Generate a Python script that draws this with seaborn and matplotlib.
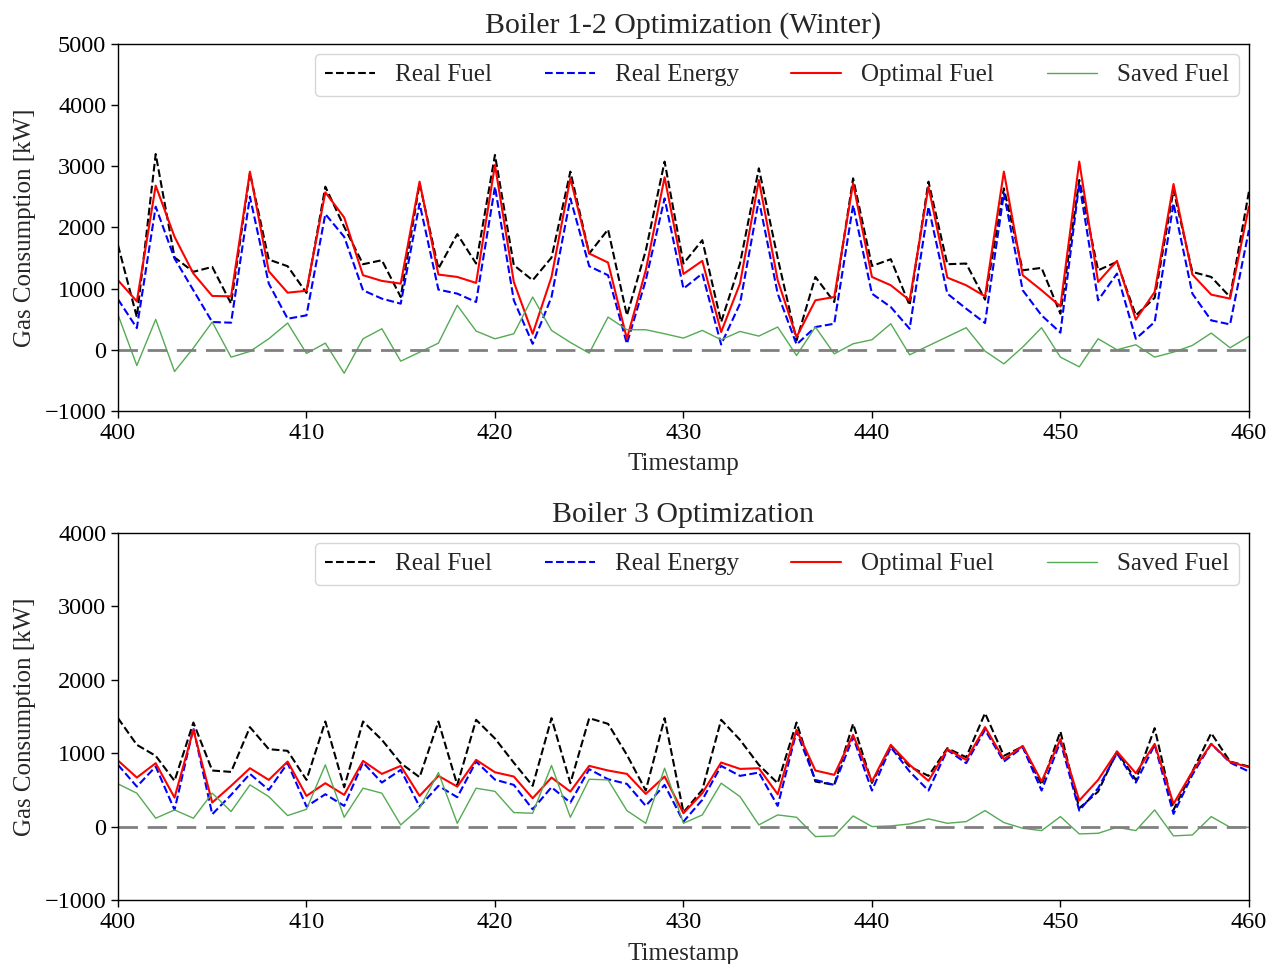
import numpy as np
import pandas as pd
import matplotlib
matplotlib.use("Agg")
import matplotlib.pyplot as plt
import seaborn as sns

timestamps = list(range(400, 461))

b12_real_fuel = [1710, 535, 3200, 1510, 1275, 1355, 755, 2890, 1475, 1366, 930,
                 2667, 2011, 1399, 1464, 863, 2720, 1328, 1891, 1410, 3186,
                 1383, 1137, 1508, 2913, 1574, 1967, 563, 1620, 3077, 1410,
                 1792, 454, 1410, 2967, 1500, 153, 1191, 781, 2803, 1370,
                 1481, 727, 2749, 1399, 1410, 820, 2639, 1300, 1339, 590,
                 2776, 1300, 1437, 563, 850, 2612, 1273, 1191, 863, 2585]
b12_real_energy = [825, 355, 2339, 1492, 973, 454, 443, 2503, 1082, 508, 563,
                   2219, 1847, 973, 836, 754, 2393, 984, 918, 781, 2667,
                   809, 98, 863, 2475, 1366, 1219, 98, 1137, 2475, 1000,
                   1246, 87, 754, 2448, 918, 87, 372, 426, 2366, 918,
                   699, 344, 2339, 918, 672, 437, 2557, 973, 563, 280,
                   2721, 809, 1246, 180, 454, 2393, 918, 481, 415, 1956]
b12_opt_fuel = [1137, 792, 2683, 1847, 1246, 880, 874, 2912, 1284, 934, 965,
                2574, 2164, 1219, 1126, 1082, 2749, 1230, 1191, 1093, 3022,
                1109, 262, 1191, 2803, 1574, 1426, 180, 1300, 2820, 1240,
                1454, 290, 1082, 2776, 1137, 208, 809, 863, 2721, 1191,
                1055, 809, 2667, 1180, 1055, 874, 2913, 1219, 973, 710,
                3077, 1109, 1454, 492, 945, 2710, 1230, 902, 836, 2339]
b12_saved_fuel = [574, -257, 497, -355, 30, 454, -120, -27, 180, 437, -60,
                  109, -383, 180, 344, -186, -40, 109, 727, 306, 180,
                  262, 863, 317, 120, -55, 535, 328, 328, 262, 191,
                  317, 164, 300, 224, 372, -93, 372, -66, 98, 164,
                  426, -82, 66, 213, 361, -22, -230, 44, 361, -120,
                  -279, 180, 0, 82, -120, -38, 71, 273, 33, 219]

b3_real_fuel = [1477, 1114, 964, 623, 1418, 764, 745, 1355, 1055, 1032, 636,
                1432, 536, 1432, 1182, 864, 673, 1432, 568, 1455, 1200,
                870, 555, 1477, 591, 1477, 1400, 977, 491, 1477, 195,
                500, 1455, 1182, 841, 591, 1418, 614, 568, 1400, 595,
                1100, 818, 691, 1068, 945, 1545, 964, 1091, 568, 1295,
                250, 477, 1023, 636, 1341, 227, 750, 1273, 886, 818]
b3_real_energy = [841, 545, 818, 227, 1341, 168, 432, 718, 500, 864, 273,
                  441, 282, 873, 600, 773, 273, 555, 400, 886, 640,
                  568, 236, 536, 327, 782, 645, 582, 282, 568, 68,
                  364, 827, 691, 736, 282, 1296, 636, 568, 1218, 491,
                  1082, 750, 491, 1045, 864, 1318, 886, 1082, 491, 1159,
                  218, 523, 1000, 600, 1114, 173, 705, 1127, 873, 750]
b3_opt_fuel = [900, 668, 864, 395, 1318, 327, 555, 795, 636, 886, 418,
               591, 432, 895, 718, 827, 418, 691, 545, 909, 740,
               682, 386, 668, 477, 827, 764, 718, 445, 682, 182,
               455, 873, 786, 795, 441, 1318, 764, 705, 1250, 614,
               1114, 841, 623, 1055, 909, 1355, 918, 1100, 614, 1191,
               355, 636, 1023, 727, 1127, 309, 750, 1127, 882, 809]
b3_saved_fuel = [582, 455, 114, 227, 114, 455, 205, 568, 409, 150, 236,
                 841, 127, 523, 455, 23, 250, 736, 45, 523, 480,
                 191, 182, 832, 127, 645, 636, 218, 45, 795, 45,
                 159, 591, 409, 23, 159, 127, -136, -127, 145, 0,
                 9, 36, 105, 45, 68, 218, 55, -23, -55, 136,
                 -100, -91, -9, -55, 227, -127, -114, 136, -9, -9]

titles = ["Boiler 1-2 Optimization (Winter)", "Boiler 3 Optimization"]
y_tops = [5000, 4000]

sns.set_style("ticks")
plt.rcParams["font.family"] = ["Liberation Serif", "DejaVu Serif"]
plt.rcParams["axes.edgecolor"] = "black"
plt.rcParams["xtick.color"] = "black"
plt.rcParams["ytick.color"] = "black"

fig = plt.figure(figsize=(12.77, 9.64), dpi=100)
ax1 = fig.add_axes([0.0924, 0.5737, 0.8856, 0.3807])
ax2 = fig.add_axes([0.0924, 0.0664, 0.8856, 0.3807])


def draw_panel(ax, real_fuel, real_energy, opt_fuel, saved_fuel, title, y_top):
    df = pd.DataFrame({"t": timestamps, "real_fuel": real_fuel,
                       "real_energy": real_energy, "opt_fuel": opt_fuel,
                       "saved_fuel": saved_fuel})
    sns.lineplot(data=df, x="t", y="real_fuel", ax=ax, color="black",
                 linestyle="--", linewidth=1.5, label="Real Fuel")
    sns.lineplot(data=df, x="t", y="real_energy", ax=ax, color="blue",
                 linestyle="--", linewidth=1.5, label="Real Energy")
    sns.lineplot(data=df, x="t", y="opt_fuel", ax=ax, color="red",
                 linewidth=1.5, label="Optimal Fuel")
    sns.lineplot(data=df, x="t", y="saved_fuel", ax=ax, color="#55aa55",
                 linewidth=1.0, label="Saved Fuel")
    ax.axhline(0, color="gray", linestyle=(0, (7, 3.5)), linewidth=2)
    ax.set_xlim(400, 460)
    ax.set_ylim(-1000, y_top)
    ax.set_xticks([400, 410, 420, 430, 440, 450, 460])
    ax.set_yticks(list(range(-1000, y_top + 1, 1000)))
    ax.set_yticklabels(["\u22121000"] + [str(v) for v in range(0, y_top + 1, 1000)])
    ax.tick_params(labelsize=17.5, length=5, width=1)
    ax.set_title(title, fontsize=21.5, pad=8)
    ax.set_xlabel("Timestamp", fontsize=18, labelpad=7)
    ax.set_ylabel("Gas Consumption [kW]", fontsize=18, labelpad=6)
    for sp in ax.spines.values():
        sp.set_linewidth(1.0)
    ax.legend(loc="upper right", ncol=4, fontsize=18, handlelength=2.0,
              handletextpad=0.8, columnspacing=2.1, framealpha=0.8,
              borderaxespad=0.4)


draw_panel(ax1, b12_real_fuel, b12_real_energy, b12_opt_fuel, b12_saved_fuel,
           titles[0], y_tops[0])
draw_panel(ax2, b3_real_fuel, b3_real_energy, b3_opt_fuel, b3_saved_fuel,
           titles[1], y_tops[1])

fig.savefig("out.png", dpi=100)
